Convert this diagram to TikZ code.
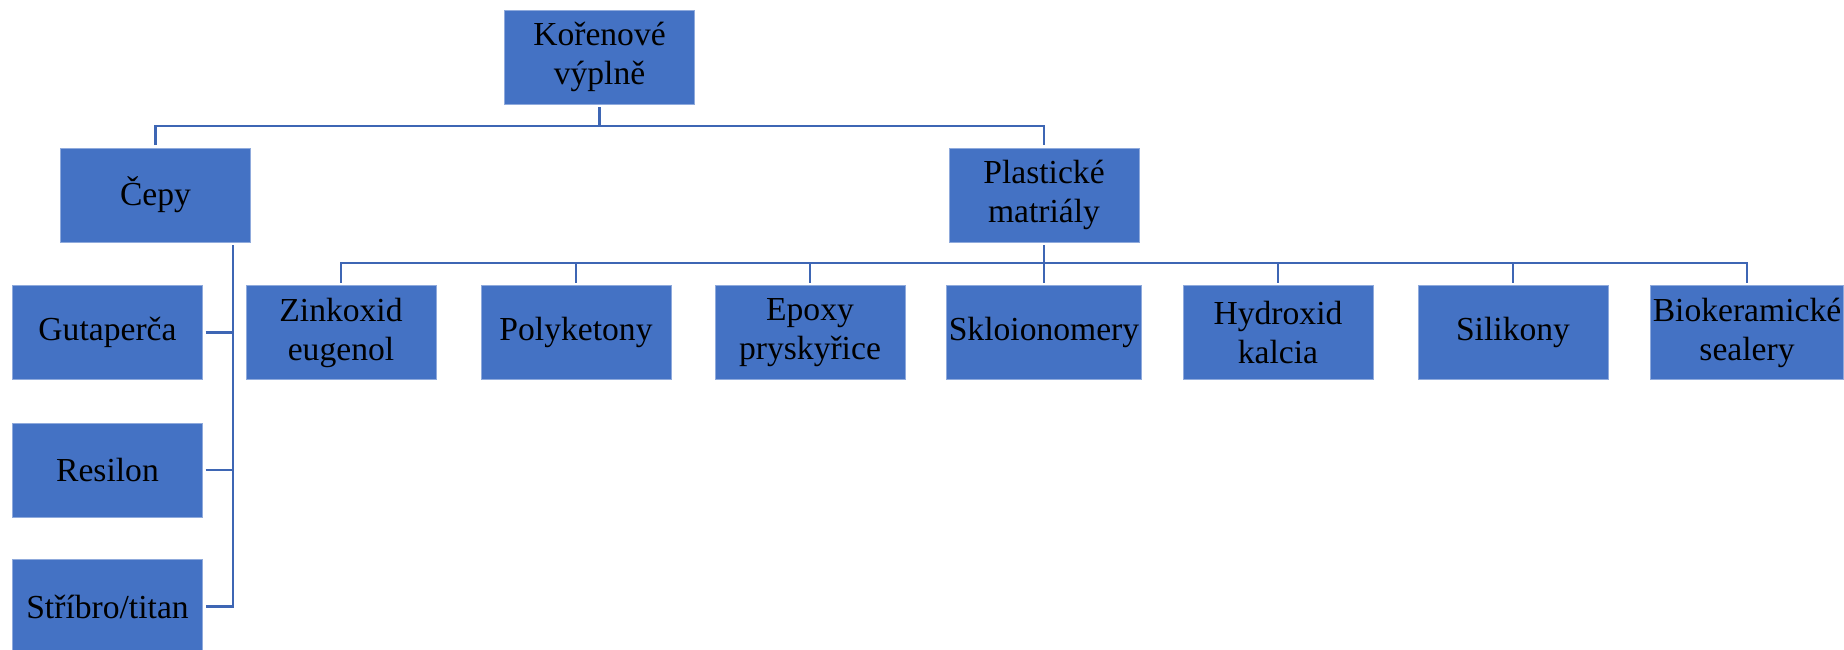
\documentclass[tikz,border=0pt]{standalone}
\usepackage{fontspec}
\setmainfont{Liberation Serif}
\usetikzlibrary{positioning}
\definecolor{boxfill}{RGB}{68,114,196}
\definecolor{boxline}{RGB}{143,170,220}
\definecolor{linkcol}{RGB}{62,102,180}
\tikzset{
  kat/.style  = {rectangle, draw=boxline, line width=0.4pt, fill=boxfill, minimum width=95pt, minimum height=47pt, inner sep=1pt, align=center, outer sep=1.5pt, font=\fontsize{16.8}{19.5}\selectfont},
  link/.style = {draw=linkcol, line width=1.4pt}
}
\begin{document}
\begin{tikzpicture}[x=0.5pt, y=-0.5pt]
  \useasboundingbox (0,0) rectangle (1844,649);
  % koren a dve hlavni vetve
  \node[kat] (koren) at (599.5,57) {Kořenové\\výplně};
  \node[kat] (cepy)  at (155.5,195) {Čepy};
  \node[kat] (plast) at (1044,195) {Plastické\\matriály};
  \coordinate (sb) at (599.5,126);
  \draw[link] (koren.south) -- (sb);
  \draw[link] (cepy.north) -- (cepy.north |- sb) -- (plast.north |- sb) -- (plast.north);
  % cepy: svisla vetev vpravo
  \node[kat] (guta) at (107.5,332.5) {Gutaperča};
  \node[kat] (resi) at (107.5,470) {Resilon};
  \node[kat] (stri) at (107.5,606.5) {Stříbro/titan};
  \coordinate (cv) at (233,245);
  \draw[link] (cv) -- (cv |- stri.east) -- (stri.east);
  \draw[link] (guta.east) -- (cv |- guta.east);
  \draw[link] (resi.east) -- (cv |- resi.east);
  % plasticke materialy
  \node[kat] (zink) at (341,332.5)  {Zinkoxid\\eugenol};
  \node[kat] (poly) at (576,332.5)  {Polyketony};
  \node[kat] (epox) at (810,332.5)  {Epoxy\\pryskyřice};
  \node[kat] (sklo) at (1044,332.5) {Skloionomery};
  \node[kat] (hydr) at (1278,332.5) {Hydroxid\\kalcia};
  \node[kat] (sili) at (1513,332.5) {Silikony};
  \node[kat] (biok) at (1747,332.5) {Biokeramické\\sealery};
  \coordinate (pb) at (1044,263);
  \draw[link] (plast.south) -- (pb);
  \draw[link] (zink.north) -- (zink.north |- pb) -- (biok.north |- pb) -- (biok.north);
  \foreach \n in {poly,epox,sklo,hydr,sili}
    \draw[link] (\n.north) -- (\n.north |- pb);
\end{tikzpicture}
\end{document}
